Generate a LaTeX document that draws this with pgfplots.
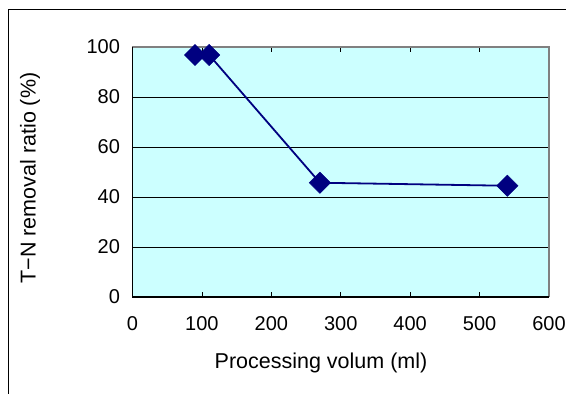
\documentclass[border=0pt]{standalone}
\usepackage{pgfplots}
\pgfplotsset{compat=1.18}
\usepackage{fontspec}
\setmainfont{Liberation Sans}
\definecolor{bgcyan}{RGB}{204,255,255}
\definecolor{navyc}{RGB}{0,0,128}
\begin{document}
\begin{tikzpicture}[x=1pt,y=1pt]
\useasboundingbox (0,0) rectangle (566,394);
\draw[black, line width=1pt] (8,0) -- (8,384) -- (566,384);
\begin{axis}[
  at={(132.5pt,97pt)}, anchor=south west,
  scale only axis, width=416.5pt, height=250pt,
  xmin=0, xmax=600, ymin=0, ymax=100,
  xtick={0,100,...,600}, ytick={0,20,...,100},
  tick align=inside, major tick length=5pt,
  tick style={black, line width=0.8pt},
  axis background/.style={fill=bgcyan},
  axis line style={draw=none},
  ymajorgrids, grid style={black, line width=0.8pt},
  /pgf/number format/assume math mode=true,
  ticklabel style={font=\fontsize{20}{24}\selectfont},
  xticklabel style={yshift=-16pt},
  yticklabel style={xshift=-9pt},
  clip=false,
]
\draw[black!50, line width=2pt] (rel axis cs:0,1) -- (rel axis cs:1,1) -- (rel axis cs:1,0);
\draw[black, line width=1pt] (rel axis cs:0,1) -- (rel axis cs:0,0) -- (rel axis cs:1,0);
\addplot[navyc, line width=1.8pt, mark=square*, mark size=7.5pt,
  mark options={rotate=45, fill=navyc, draw=navyc, line width=0.5pt}]
  coordinates {(90,96.8) (110.5,96.8) (270,45.7) (540,44.5)};
\end{axis}
\node[font=\fontsize{21.5}{25}\selectfont] at (321,31) {Processing volum (ml)};
\node[font=\fontsize{21.5}{25}\selectfont, rotate=90] at (30,216) {T−N removal ratio (\%)};
\end{tikzpicture}
\end{document}
